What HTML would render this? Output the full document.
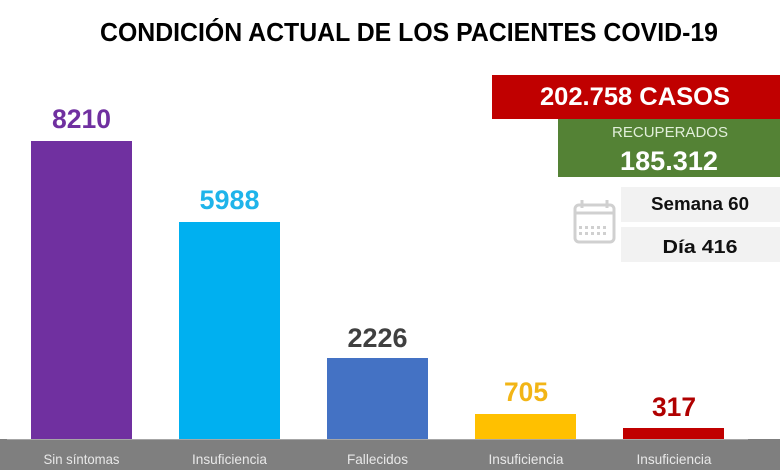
<!DOCTYPE html>
<html><head><meta charset="utf-8"><style>
html,body{margin:0;padding:0;background:#fff;}
svg{display:block;}
text{font-family:"Liberation Sans",Arial,sans-serif;}
</style></head><body>
<svg width="780" height="470" viewBox="0 0 780 470" xmlns="http://www.w3.org/2000/svg">
<rect width="780" height="470" fill="#fff"/>
<text x="409" y="41" font-size="26" font-weight="bold" fill="#000" text-anchor="middle" textLength="618" lengthAdjust="spacingAndGlyphs">CONDICIÓN ACTUAL DE LOS PACIENTES COVID-19</text>

<!-- summary boxes -->
<rect x="492" y="75" width="288" height="44" fill="#c00000"/>
<text x="635" y="105" font-size="25" font-weight="bold" fill="#fff" text-anchor="middle" textLength="190" lengthAdjust="spacingAndGlyphs">202.758 CASOS</text>
<rect x="558" y="119" width="222" height="58" fill="#548235"/>
<text x="670" y="137" font-size="15" fill="#e2efda" text-anchor="middle" textLength="116" lengthAdjust="spacingAndGlyphs">RECUPERADOS</text>
<text x="669" y="170" font-size="27" font-weight="bold" fill="#fff" text-anchor="middle" textLength="98" lengthAdjust="spacingAndGlyphs">185.312</text>

<rect x="621" y="187" width="159" height="35" fill="#f2f2f2"/>
<text x="700" y="210" font-size="18" font-weight="bold" fill="#111" text-anchor="middle" textLength="98" lengthAdjust="spacingAndGlyphs">Semana 60</text>
<rect x="621" y="227" width="159" height="35" fill="#f2f2f2"/>
<text x="700" y="253" font-size="18" font-weight="bold" fill="#111" text-anchor="middle" textLength="75" lengthAdjust="spacingAndGlyphs">Día 416</text>

<!-- calendar icon -->
<g fill="none" stroke="#d0d0d0" stroke-width="3">
<rect x="575" y="205" width="39" height="37" rx="4"/>
<line x1="575" y1="213" x2="614" y2="213"/>
<line x1="582" y1="200" x2="582" y2="208"/>
<line x1="607" y1="200" x2="607" y2="208"/>
</g>
<g fill="#d0d0d0">
<rect x="579" y="226" width="3" height="3"/><rect x="585" y="226" width="3" height="3"/><rect x="591" y="226" width="3" height="3"/><rect x="597" y="226" width="3" height="3"/><rect x="603" y="226" width="3" height="3"/>
<rect x="579" y="232" width="3" height="3"/><rect x="585" y="232" width="3" height="3"/><rect x="591" y="232" width="3" height="3"/><rect x="597" y="232" width="3" height="3"/><rect x="603" y="232" width="3" height="3"/>
</g>

<!-- bars -->
<rect x="31" y="141" width="101" height="298" fill="#7030a0"/>
<rect x="179" y="222" width="101" height="217" fill="#00b0f0"/>
<rect x="327" y="358" width="101" height="81" fill="#4472c4"/>
<rect x="475" y="414" width="101" height="25" fill="#ffc000"/>
<rect x="623" y="428" width="101" height="11" fill="#c00000"/>

<!-- value labels -->
<text x="81.5" y="128" font-size="27" font-weight="bold" fill="#7030a0" text-anchor="middle" textLength="59" lengthAdjust="spacingAndGlyphs">8210</text>
<text x="229.5" y="209" font-size="27" font-weight="bold" fill="#1fb4ea" text-anchor="middle" textLength="60" lengthAdjust="spacingAndGlyphs">5988</text>
<text x="377.5" y="347" font-size="27" font-weight="bold" fill="#404040" text-anchor="middle" textLength="60" lengthAdjust="spacingAndGlyphs">2226</text>
<text x="526" y="401" font-size="27" font-weight="bold" fill="#f2b516" text-anchor="middle" textLength="44" lengthAdjust="spacingAndGlyphs">705</text>
<text x="674" y="416" font-size="27" font-weight="bold" fill="#b00000" text-anchor="middle" textLength="44" lengthAdjust="spacingAndGlyphs">317</text>

<!-- category band -->
<rect x="0" y="439" width="780" height="31" fill="#7f7f7f"/>
<line x1="7" y1="439.5" x2="748" y2="439.5" stroke="#a6a6a6" stroke-width="1"/>
<g font-size="14" fill="#e8e8e8" text-anchor="middle">
<text x="81.5" y="464" textLength="76" lengthAdjust="spacingAndGlyphs">Sin síntomas</text>
<text x="229.5" y="464" textLength="75" lengthAdjust="spacingAndGlyphs">Insuficiencia</text>
<text x="377.5" y="464" textLength="61" lengthAdjust="spacingAndGlyphs">Fallecidos</text>
<text x="526" y="464" textLength="75" lengthAdjust="spacingAndGlyphs">Insuficiencia</text>
<text x="674" y="464" textLength="75" lengthAdjust="spacingAndGlyphs">Insuficiencia</text>
</g>
</svg>
</body></html>
